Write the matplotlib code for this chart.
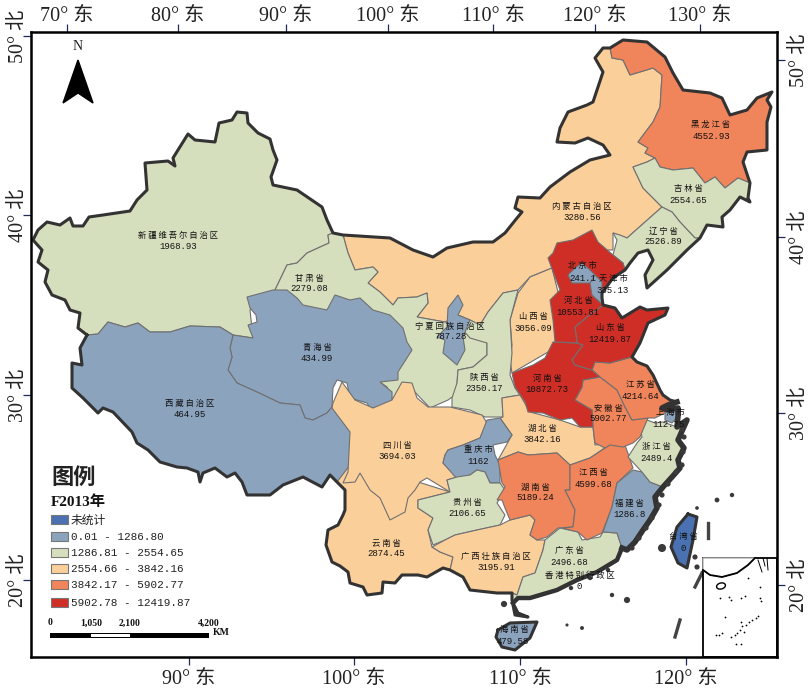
import numpy as np
import matplotlib
matplotlib.use("Agg")
import matplotlib.pyplot as plt
from matplotlib.patches import Rectangle, Ellipse

# map outline pieces (pixel units of the map frame)
seg_xj = [(87,335),(78,328),(80,313),(70,310),(65,300),(52,295),(45,282),(48,270),(38,262),(42,250),(33,240),(38,230),(47,222),(60,225),(70,218),(73,226),(83,226),(89,217),(103,215),(130,211),(137,200),(147,190),(145,163),(168,161),(175,166),(173,158),(188,134),(195,140),(215,142),(219,123),(232,120),(237,112),(247,113),(248,123),(258,133),(270,139),(273,150),(277,160),(271,177),(273,185),(297,190),(322,207),(327,220),(333,233)]
seg_gs = [(333,233),(343,235)]
seg_nm = [(343,235),(390,238),(413,250),(433,257),(447,248),(473,242),(493,242),(505,233),(517,218),(522,212),(515,208),(518,197),(540,198),(550,187),(570,172),(590,160),(610,155),(603,145),(588,138),(575,143),(557,142),(560,128),(568,112),(587,105),(593,102),(603,72),(595,58),(603,48),(610,48)]
seg_hlj = [(610,48),(623,40),(647,42),(665,57),(673,73),(683,90),(710,93),(722,98),(730,115),(747,110),(757,98),(772,92),(767,100),(771,107),(767,122),(767,150),(747,152),(743,162),(750,183)]
seg_jl = [(750,183),(748,198),(750,202),(740,197),(730,210),(722,217),(723,227),(707,225),(700,238)]
seg_ln = [(700,238),(687,250),(667,270),(647,288),(645,275),(653,260),(648,250),(638,253),(630,263),(625,270)]
seg_hb = [(625,270),(613,278),(602,293)]
seg_tj = [(602,293),(602,298),(603,305)]
seg_sd = [(603,305),(615,308),(622,318),(640,307),(647,310),(668,308),(665,315),(648,323),(640,343),(632,357)]
seg_js = [(632,357),(637,362),(647,366),(653,375),(660,390),(663,395),(670,400),(677,402)]
seg_sh = [(677,402),(668,405),(662,408),(668,410),(678,408),(678,416),(677,427)]
seg_zj = [(677,427),(687,420),(678,440),(684,448),(678,460),(680,468),(672,477),(663,487)]
seg_fj = [(663,487),(655,497),(657,508),(650,520),(643,530),(635,542),(627,550),(622,548)]
seg_gd = [(622,548),(617,560),(597,572),(577,580),(557,590),(530,598),(518,598),(513,603),(518,613),(528,617),(515,615),(512,600),(512,593)]
seg_gx = [(512,593),(497,593),(470,590),(463,577),(450,570)]
seg_yn = [(450,570),(443,568),(427,577),(418,575),(402,575),(395,583),(383,582),(382,593),(367,595),(363,587),(350,583),(348,572),(340,566),(332,562),(326,545),(328,530),(338,525),(343,515),(345,510),(345,490),(337,482)]
seg_xz = [(337,482),(330,475),(322,487),(303,477),(283,485),(270,495),(247,495),(242,482),(235,473),(227,477),(215,468),(203,473),(200,482),(198,472),(187,468),(177,467),(160,462),(148,450),(137,443),(132,432),(113,412),(103,408),(98,413),(83,398),(72,388),(72,372),(72,363),(82,365),(80,348),(87,335)]

national_border = (seg_xj + seg_gs + seg_nm + seg_hlj + seg_jl + seg_ln + seg_hb + seg_tj + seg_sd
                   + seg_js + seg_sh + seg_zj + seg_fj + seg_gd + seg_gx + seg_yn + seg_xz)

# provinces, drawn in this order, later ones sit over the shared edge of earlier ones
province_names = ["新疆维吾尔自治区","内蒙古自治区","甘肃省","黑龙江省","吉林省","辽宁省","山西省","陕西省","宁夏回族自治区","青海省","西藏自治区",
                  "云南省","四川省","湖北省","重庆市","贵州省","广西壮族自治区","广东省","湖南省","江西省","福建省","浙江省","安徽省","江苏省",
                  "河南省","山东省","河北省","北京市","天津市","上海市","海南省","台湾省"]
province_values = [1968.93,3280.56,2279.08,4552.93,2554.65,2526.89,3056.09,2350.17,787.28,434.99,464.95,
                   2874.45,3694.03,3842.16,1162,2106.65,3195.91,2496.68,5189.24,4599.68,1286.8,2489.4,5902.77,4214.64,
                   10872.73,12419.87,10553.81,241.1,335.13,112.75,479.58,0]
name_x = [178,582,309,711,688,663,533,484,450,317,190,386,397,542,478,467,496,569,535,593,629,656,608,640,547,610,578,582,613,670,514,683]
name_y = [235,207,278,124,189,231,317,377,326,347,403,543,445,428,450,502,556,551,487,473,503,447,408,384,378,328,301,266,279,412,629,537]
value_x = [178,582,309,711,688,663,533,484,450,317,190,386,397,542,478,467,496,569,535,593,629,656,608,640,547,610,578,583,613,668,513,683]
value_y = [247,218,289,137,201,242,329,389,337,359,415,554,457,440,462,514,568,563,498,485,515,459,419,397,390,340,313,279,291,425,642,549]

xinjiang = seg_xj + [(328,235),(329,243),(307,253),(297,263),(287,265),(275,290),(250,310),(253,338),(233,335),(220,327),(190,326),(170,332),(150,332),(138,323),(125,327),(108,322),(98,334)]
inner_mongolia = seg_nm + [(612,58),(623,60),(630,75),(653,68),(662,75),(660,107),(653,122),(638,142),(648,148),(645,153),(655,158),(647,162),(633,167),(643,188),(662,207),(627,238),(613,233),(613,250),(600,250),(570,260),(552,268),(530,277),(518,290),(503,293),(488,312),(480,325),(470,320),(458,315),(445,322),(417,317),(428,303),(427,293),(417,297),(398,298),(393,305),(380,292),(368,283),(378,272),(373,267),(355,270),(348,253)]
gansu = seg_gs + [(348,253),(355,270),(373,267),(378,272),(368,283),(380,292),(393,305),(398,298),(417,297),(427,293),(428,303),(417,317),(445,322),(470,330),(487,343),(487,355),(473,367),(458,370),(457,383),(462,390),(448,400),(430,408),(413,390),(405,383),(393,400),(387,387),(380,382),(300,340),(275,290),(287,265),(297,263),(307,253),(329,243),(328,235)]
heilongjiang = seg_hlj + [(738,178),(725,188),(715,177),(705,183),(693,168),(673,170),(660,167),(655,158),(645,153),(648,148),(638,142),(653,122),(660,107),(662,75),(653,68),(630,75),(623,60),(612,58)]
jilin = seg_jl + [(695,238),(680,222),(672,212),(662,207),(643,188),(633,167),(647,162),(655,158),(660,167),(673,170),(693,168),(705,183),(715,177),(725,188),(738,178)]
liaoning = seg_ln + [(623,263),(613,255),(617,240),(613,233),(620,235),(627,238),(662,207),(672,212),(680,222),(695,238)]
shanxi = [(530,277),(552,268),(560,300),(560,345),(512,373),(510,360),(512,345),(510,320),(518,293)]
shaanxi = [(520,395),(502,398),(503,417),(485,417),(470,410),(452,407),(452,398),(457,383),(458,370),(473,367),(487,355),(487,343),(470,338),(463,330),(470,320),(480,325),(488,312),(503,293),(518,290),(510,320),(512,353),(510,375),(515,388)]
ningxia = [(458,295),(463,305),(458,315),(470,320),(463,337),(465,350),(457,365),(443,353),(445,340),(437,337),(447,327),(448,308)]
qinghai = [(233,335),(253,338),(248,325),(257,322),(256,315),(250,308),(247,297),(273,290),(287,290),(297,298),(303,305),(327,310),(335,295),(350,300),(360,298),(373,310),(390,315),(403,328),(407,342),(412,350),(398,372),(398,380),(380,382),(392,392),(392,400),(385,408),(370,408),(367,403),(350,398),(347,383),(337,380),(333,388),(332,407),(327,413),(313,420),(305,418),(300,405),(280,403),(257,392),(237,383),(228,370),(232,357),(230,348)]
tibet = seg_xz + [(98,334),(108,322),(125,327),(138,323),(150,332),(170,332),(190,326),(220,327),(233,335),(230,348),(232,357),(228,370),(237,383),(257,392),(280,403),(300,405),(305,418),(313,420),(327,413),(332,407),(347,418),(352,432),(350,465),(345,482)]
yunnan = seg_yn + [(350,465),(380,470),(450,492),(430,497),(418,500),(418,508),(433,518),(428,530),(432,547),(440,552),(453,557)]
sichuan = [(332,408),(333,403),(342,382),(350,393),(355,400),(373,408),(392,400),(402,382),(412,383),(417,398),(428,407),(450,407),(482,415),(487,423),(480,438),(463,445),(448,450),(445,455),(443,463),(457,477),(447,480),(450,492),(427,478),(420,482),(415,490),(408,498),(405,512),(390,520),(380,498),(370,490),(360,473),(355,482),(343,483),(348,472),(350,432)]
hubei = [(502,398),(520,395),(530,412),(560,420),(580,427),(593,427),(595,445),(612,443),(590,458),(570,465),(557,453),(528,455),(518,452),(498,460),(512,435),(500,418),(503,417)]
chongqing = [(487,420),(500,418),(512,435),(507,442),(493,445),(495,455),(500,465),(500,483),(490,483),(485,472),(477,470),(470,475),(458,480),(443,463),(445,455),(448,450),(463,445),(480,438)]
guizhou = [(450,492),(447,480),(457,477),(470,475),(477,470),(485,472),(490,483),(500,483),(505,490),(497,503),(505,515),(500,525),(477,530),(455,535),(445,540),(433,545),(428,530),(433,518),(418,508),(418,500),(430,497)]
guangxi = seg_gx + [(453,557),(440,552),(432,547),(445,540),(455,535),(477,530),(500,525),(510,520),(530,515),(535,520),(530,535),(537,540),(545,540),(543,550),(535,573),(523,577),(517,595)]
guangdong = seg_gd + [(517,595),(523,577),(535,573),(543,550),(545,540),(560,528),(578,532),(582,540),(600,537),(603,532),(617,533)]
hunan = [(498,460),(518,452),(528,455),(557,453),(570,465),(570,490),(565,490),(575,510),(573,527),(558,528),(547,537),(537,540),(530,535),(535,520),(530,515),(510,520),(505,508),(502,500),(497,500),(505,487),(502,483)]
jiangxi = [(570,465),(590,458),(605,448),(612,443),(625,445),(633,468),(617,483),(612,507),(602,533),(587,540),(578,532),(562,528),(573,527),(575,510),(565,490),(570,490)]
fujian = seg_fj + [(617,533),(603,532),(612,507),(617,483),(633,470),(642,472),(650,482)]
zhejiang = seg_zj + [(650,482),(642,472),(628,457),(637,443),(642,437),(640,427),(647,420),(655,423),(663,422)]
anhui = [(600,377),(617,390),(625,407),(632,420),(648,418),(640,437),(633,443),(623,447),(610,445),(605,448),(595,443),(593,427),(592,410),(575,400),(582,387),(583,380)]
jiangsu = seg_js + [(672,410),(665,413),(655,418),(648,418),(632,420),(625,407),(617,390),(600,377),(592,370),(595,362),(610,363)]
henan = [(512,373),(533,365),(545,358),(553,342),(577,343),(583,345),(572,360),(575,365),(592,370),(600,377),(583,380),(582,387),(575,400),(592,410),(593,427),(580,427),(572,418),(560,420),(543,413),(528,412),(525,402),(515,387)]
shandong = seg_sd + [(610,363),(595,362),(592,370),(575,365),(572,360),(583,345),(577,343),(575,327),(587,317)]
hebei = seg_hb + seg_tj + [(587,317),(575,327),(577,343),(555,342),(553,320),(550,300),(560,290),(555,277),(548,258),(553,253),(557,243),(573,240),(592,230),(598,242),(613,255),(623,263)]
beijing = [(568,275),(575,268),(582,263),(590,270),(595,275),(590,283),(580,283),(572,283)]
tianjin = [(595,275),(602,282),(602,293),(602,298),(603,305),(592,295),(590,283)]
shanghai = [(665,412),(675,408),(678,416),(672,423),(665,420)]
hainan = [(498,630),(510,623),(537,622),(530,638),(515,650),(502,647),(496,637)]
taiwan = [(688,514),(697,517),(693,540),(687,568),(678,563),(671,547),(677,527)]

province_shapes = [xinjiang,inner_mongolia,gansu,heilongjiang,jilin,liaoning,shanxi,shaanxi,ningxia,qinghai,tibet,
                   yunnan,sichuan,hubei,chongqing,guizhou,guangxi,guangdong,hunan,jiangxi,fujian,zhejiang,anhui,jiangsu,
                   henan,shandong,hebei,beijing,tianjin,shanghai,hainan,taiwan]

# small islands and dash marks off the coast
island_x = [717,732,697,695,697,662,627,612,504,567,582,682,684,683,682,676,668,662,659,652,646,639,632,608,590,571]
island_y = [500,495,508,557,567,548,600,595,604,625,628,430,437,452,465,472,484,495,505,518,528,538,548,570,578,588]
island_size = [12,10,7,14,14,34,20,10,20,5,8,14,14,14,14,14,14,14,14,14,14,14,14,10,10,10]
dash_x = [(708,708),(680,675),(702,695)]
dash_y = [(523,538),(620,637),(573,587)]

# legend
class_breaks = [0.01,1286.805,2554.655,3842.165,5902.775]
class_colors = ["#4a72b2","#8ba3bd","#d6dfbd","#fbcf9a","#f0845a","#cf2e27"]
class_labels = ["未统计","0.01 - 1286.80","1286.81 - 2554.65","2554.66 - 3842.16","3842.17 - 5902.77","5902.78 - 12419.87"]
legend_y = [520,537,553,569,585,603]
scale_pos = [50,91,129.5,209]
scale_labels = ["0","1,050","2,100","4,200"]

# graticule labels
top_ticks = [67,178,286,388,493,595,700]
top_labels = ["70° 东","80° 东","90° 东","100° 东","110° 东","120° 东","130° 东"]
bottom_ticks = [189,354,520,686]
bottom_labels = ["90° 东","100° 东","110° 东","120° 东"]
left_ticks = [36,215,395,580]
right_ticks = [60,237,413,585]
lat_labels = ["50° 北","40° 北","30° 北","20° 北"]

# china inset
inset_land = [(703,558),(703,570),(710,575),(722,577),(737,573),(748,565),(755,558)]
inset_coast = [(703,570),(710,575),(722,577),(737,573),(748,565),(755,558)]
inset_lines_x = [(758,762),(767,768),(763,765)]
inset_lines_y = [(560,572),(558,570),(558,566)]
inset_dot_x = [748,760,720,729,731,741,745,760,761,725,741,742,746,749,752,756,758,737,740,744,716,719,722,741,736,731,735]
inset_dot_y = [578,587,598,597,600,598,596,598,601,617,622,626,625,622,620,618,616,633,630,632,635,635,633,644,644,637,635]

plt.rcParams['font.family'] = ['Liberation Serif', 'Noto Sans CJK SC', 'DejaVu Sans']
cn = ['Noto Sans CJK SC', 'DejaVu Sans']
mono = ['Liberation Mono', 'DejaVu Sans Mono']
tick_col = "#1f2a5a"

fig = plt.figure(figsize=(8.09, 6.90), dpi=100)
ax = fig.add_axes([31/809, 33/690, 746/809, 625/690])
ax.set_xlim(31, 777)
ax.set_ylim(657, 32)

for shape, val in zip(province_shapes, province_values):
    color = class_colors[np.digitize(val, class_breaks)]
    xs, ys = zip(*shape)
    ax.fill(xs, ys, facecolor=color, edgecolor="#707070", linewidth=0.8, zorder=2)

bx, by = zip(*national_border)
ax.plot(bx, by, color="#333333", lw=2.2, zorder=3, solid_joinstyle="round")
bx, by = zip(*(seg_sh + seg_zj + seg_fj))
ax.plot(bx, by, color="#333333", lw=4, zorder=3, solid_joinstyle="round")
bx, by = zip(*(seg_gd[:8]))
ax.plot(bx, by, color="#333333", lw=3.2, zorder=3, solid_joinstyle="round")
for shape in [hainan, taiwan]:
    xs, ys = zip(*(shape + shape[:1]))
    ax.plot(xs, ys, color="#333333", lw=2.2, zorder=3)
ax.scatter(island_x, island_y, s=island_size, color="#3a3a3a", linewidths=0, zorder=3)
for xs, ys in zip(dash_x, dash_y):
    ax.plot(xs, ys, color="#444444", lw=2.4, zorder=3)

# inset box with the southern sea
ax.add_patch(Rectangle((703, 558), 74, 99, facecolor="white", edgecolor="black", lw=1.3, zorder=4))
xs, ys = zip(*inset_land)
ax.fill(xs, ys, facecolor="white", edgecolor="#b5b5b5", lw=1, zorder=5)
xs, ys = zip(*inset_coast)
ax.plot(xs, ys, color="black", lw=1.3, zorder=5)
for xs, ys in zip(inset_lines_x, inset_lines_y):
    ax.plot(xs, ys, color="black", lw=0.7, zorder=5)
ax.add_patch(Ellipse((721, 586), 9, 6, angle=-15, facecolor="white", edgecolor="black", lw=1, zorder=5))
ax.scatter(inset_dot_x, inset_dot_y, s=1.6, color="black", linewidths=0, zorder=5)

# province labels
for nm, val, nx, ny, vx, vy in zip(province_names, province_values, name_x, name_y, value_x, value_y):
    ax.text(nx, ny, " ".join(nm), family=cn, fontsize=6, ha="center", va="center", color="#111111", zorder=6)
    ax.text(vx, vy, format(val, ".10g"), family=mono, fontsize=6.5, ha="center", va="center", color="#111111", zorder=6)
ax.text(580, 575, " ".join("香港特别行政区"), family=cn, fontsize=6, ha="center", va="center", color="#111111", zorder=6)
ax.text(579, 587, "0", family=mono, fontsize=6.5, ha="center", va="center", color="#111111", zorder=6)

# north arrow
ax.fill([78, 93, 78, 63], [60, 103, 93, 103], color="black", zorder=6)
ax.text(78, 47, "N", fontsize=10, ha="center", va="center", color="#222222")

# legend
ax.text(51, 477, "图例", family=cn, fontsize=16, fontweight="bold", ha="left", va="center", color="#222222")
ax.text(51, 502, "F2013年", fontsize=11, fontweight="bold", ha="left", va="center", color="#111111")
for col, lab, y in zip(class_colors, class_labels, legend_y):
    ax.add_patch(Rectangle((51, y-4.5), 17, 9, facecolor=col, edgecolor="#777777", lw=0.8, zorder=6))
    if lab == class_labels[0]:
        ax.text(71, y, lab, family=cn, fontsize=8.5, ha="left", va="center", color="#222222")
    else:
        ax.text(71, y, lab, family=mono, fontsize=7.9, ha="left", va="center", color="#222222")

# scale bar
ax.add_patch(Rectangle((scale_pos[0], 633), scale_pos[3]-scale_pos[0], 5, facecolor="black", edgecolor="black", lw=0, zorder=6))
ax.add_patch(Rectangle((scale_pos[1], 634.5), scale_pos[2]-scale_pos[1], 2.5, facecolor="white", edgecolor="none", zorder=7))
for pos, lab in zip(scale_pos, scale_labels):
    ax.text(pos, 623, lab, fontsize=7, fontweight="bold", ha="center", va="center", color="#111111")
ax.text(213, 633, "KM", fontsize=7, fontweight="bold", ha="left", va="center", color="#111111")

# frame and graticule ticks
for sp in ax.spines.values():
    sp.set_linewidth(1.8)
    sp.set_zorder(8)
ax.set_xticks(bottom_ticks, bottom_labels)
ax.set_yticks(left_ticks, lat_labels, rotation=90, va="center")
ax.tick_params(axis="x", length=6, width=0.9, color=tick_col, labelsize=14.5, pad=3, labelcolor="#222222")
ax.tick_params(axis="y", length=6, width=0.9, color=tick_col, labelsize=14.5, pad=-4, labelcolor="#222222")
top = ax.secondary_xaxis("top")
top.set_xticks(top_ticks, top_labels)
top.tick_params(length=6, width=0.9, color=tick_col, labelsize=14.5, pad=-2, labelcolor="#222222")
top.spines["top"].set_visible(False)
right = ax.secondary_yaxis("right")
right.set_yticks(right_ticks, lat_labels, rotation=90, va="center")
right.tick_params(length=6, width=0.9, color=tick_col, labelsize=14.5, pad=3, labelcolor="#222222")
right.spines["right"].set_visible(False)

fig.savefig("out.png", dpi=100)
